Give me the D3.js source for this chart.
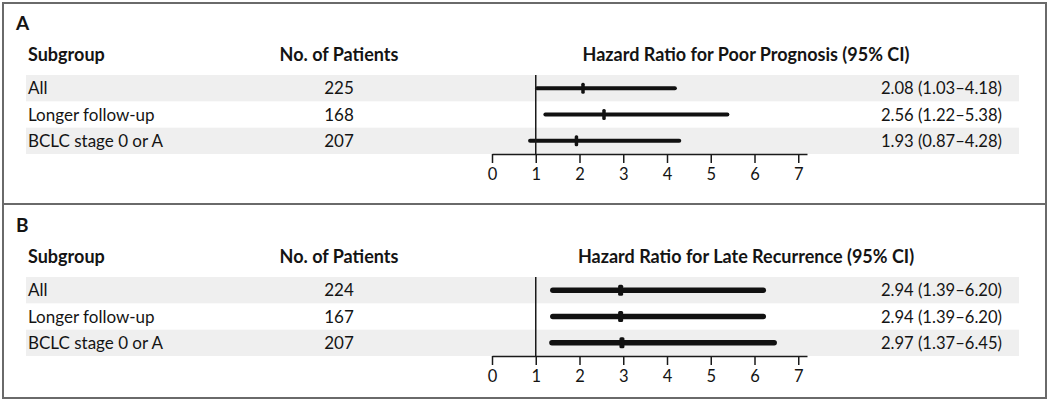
<!DOCTYPE html>
<html>
<head>
<meta charset="utf-8">
<script src="https://cdn.jsdelivr.net/npm/d3@7"></script>
<style>
  html, body { margin: 0; padding: 0; background: #fff; }
  svg { display: block; }
  text { font-family: Lato, "Open Sans", sans-serif; fill: #141414; }
</style>
</head>
<body>
<svg id="chart" width="1050" height="401"></svg>
<script>
const subgroups = ["All", "Longer follow-up", "BCLC stage 0 or A"];
const patientsA = [225, 168, 207];
const hrA = [2.08, 2.56, 1.93];
const lowA = [1.03, 1.22, 0.87];
const highA = [4.18, 5.38, 4.28];
const patientsB = [224, 167, 207];
const hrB = [2.94, 2.94, 2.97];
const lowB = [1.39, 1.39, 1.37];
const highB = [6.20, 6.20, 6.45];
const axisTicks = [0, 1, 2, 3, 4, 5, 6, 7];
const panelLabels = ["A", "B"];
const titles = ["Hazard Ratio for Poor Prognosis (95% CI)", "Hazard Ratio for Late Recurrence (95% CI)"];
const colHeaders = ["Subgroup", "No. of Patients"];

const svg = d3.select("#chart");

// outer frame
svg.append("rect").attr("x", 3).attr("y", 3).attr("width", 1043).attr("height", 395)
  .attr("fill", "none").attr("stroke", "#6a6a6a").attr("stroke-width", 2);
svg.append("line").attr("x1", 3).attr("x2", 1046).attr("y1", 204).attr("y2", 204)
  .attr("stroke", "#6a6a6a").attr("stroke-width", 2);

const x = d3.scaleLinear().domain([0, 7.2]).range([492, 807]);
const y = d3.scaleBand().domain(subgroups).range([75, 154]);

const panels = [
  { patients: patientsA, hr: hrA, low: lowA, high: highA, off: 0, lw: 4, mw: 3.5 },
  { patients: patientsB, hr: hrB, low: lowB, high: highB, off: 202, lw: 5.5, mw: 5 }
];

panels.forEach((p, pi) => {
  const g = svg.append("g").attr("transform", `translate(0,${p.off})`);

  // bands
  g.selectAll("rect.band").data(subgroups.filter((d, i) => i % 2 === 0)).join("rect")
    .attr("class", "band")
    .attr("x", 26).attr("width", 1019 - 26)
    .attr("y", d => y(d)).attr("height", y.bandwidth())
    .attr("fill", "#efefef");

  g.append("text").attr("x", 16).attr("y", 30)
    .attr("font-size", 19).attr("font-weight", 700).text(panelLabels[pi]);

  g.append("text").attr("x", 28).attr("y", 61)
    .attr("font-size", 18).attr("font-weight", 700).text(colHeaders[0]);
  g.append("text").attr("x", 339).attr("y", 61).attr("text-anchor", "middle")
    .attr("font-size", 18).attr("font-weight", 700).text(colHeaders[1]);
  g.append("text").attr("x", 746).attr("y", 61).attr("text-anchor", "middle")
    .attr("font-size", 18).attr("font-weight", 700).text(titles[pi]);

  const rows = g.selectAll("g.row").data(subgroups).join("g").attr("class", "row")
    .attr("transform", d => `translate(0,${y(d) + y.bandwidth() / 2})`);

  rows.append("text").attr("x", 28).attr("y", 6).attr("font-size", 17).text(d => d);
  rows.append("text").attr("x", 339).attr("y", 6).attr("text-anchor", "middle")
    .attr("font-size", 17).text((d, i) => p.patients[i]);
  rows.append("text").attr("x", 1002).attr("y", 6).attr("text-anchor", "end")
    .attr("font-size", 16.6)
    .text((d, i) => `${p.hr[i].toFixed(2)} (${p.low[i].toFixed(2)}\u2013${p.high[i].toFixed(2)})`);

  // reference line at 1
  g.append("line").attr("x1", x(1)).attr("x2", x(1)).attr("y1", 75).attr("y2", 154)
    .attr("stroke", "#1a1a1a").attr("stroke-width", 1.5);

  // CI lines
  rows.append("line")
    .attr("x1", (d, i) => x(p.low[i])).attr("x2", (d, i) => x(p.high[i]))
    .attr("y1", 0).attr("y2", 0)
    .attr("stroke", "#111").attr("stroke-width", p.lw).attr("stroke-linecap", "round");
  rows.append("rect")
    .attr("x", (d, i) => x(p.hr[i]) - p.mw / 2).attr("width", p.mw)
    .attr("y", -5.5).attr("height", 11).attr("rx", 1.5)
    .attr("fill", "#111");

  // axis
  const axis = d3.axisBottom(x).tickValues(axisTicks).tickSize(9).tickSizeOuter(0)
    .tickFormat(d3.format("d"));
  const ag = g.append("g").attr("transform", "translate(0,154)").call(axis);
  ag.select(".domain").attr("stroke", "#1a1a1a").attr("stroke-width", 1.5);
  ag.selectAll(".tick line").attr("stroke", "#1a1a1a").attr("stroke-width", 1.5);
  ag.selectAll(".tick text").attr("font-size", 16.5).attr("font-family", "Lato, 'Open Sans', sans-serif")
    .attr("fill", "#141414").attr("dy", "0.85em");
});
</script>
</body>
</html>
